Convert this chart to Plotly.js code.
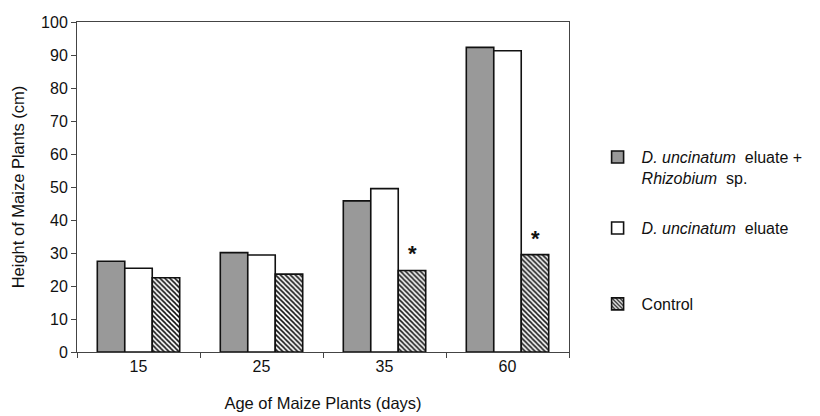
<!DOCTYPE html>
<html><head><meta charset="utf-8">
<script src="https://cdn.plot.ly/plotly-3.0.1.min.js"></script>
<style>body{margin:0;background:#fff}</style>
</head><body><div id="chart" style="width:820px;height:416px"></div>
<script>
const ages = ["15", "25", "35", "60"];
const rhizobium = [27.5, 30.1, 45.8, 92.3];
const eluate = [25.4, 29.4, 49.5, 91.3];
const control = [22.5, 23.6, 24.7, 29.5];
const starAges = ["35", "60"];
const starValues = [24.7, 29.5];
const seriesNames = ["<i>D. uncinatum</i>&nbsp; eluate +<br><i>Rhizobium</i>&nbsp; sp.", "<i>D. uncinatum</i>&nbsp; eluate", "Control"];

const lineStyle = {color: "#111", width: 1.6};
const traces = [
  {type: "bar", x: ages, y: rhizobium, name: seriesNames[0], legend: "legend",
   marker: {color: "#999999", line: lineStyle}},
  {type: "bar", x: ages, y: eluate, name: seriesNames[1], legend: "legend2",
   marker: {color: "#ffffff", line: lineStyle}},
  {type: "bar", x: ages, y: control, name: seriesNames[2], legend: "legend3",
   marker: {color: "#ffffff", line: lineStyle,
     pattern: {shape: "\\", fgcolor: "#111", bgcolor: "#ffffff", size: 3.5, solidity: 0.45, fillmode: "replace"}}}
];

const annotations = starAges.map((a, i) => ({
  x: ages.indexOf(a), y: starValues[i], xref: "x", yref: "y", text: "<b>*</b>", showarrow: false,
  xshift: 28, yanchor: "bottom", yshift: 2,
  font: {family: "Liberation Sans, Arial, sans-serif", size: 22, color: "#111"}
}));

const legendBase = {xanchor: "left", yanchor: "top", valign: "top", itemwidth: 38,
  font: {size: 16, color: "#111"}, bgcolor: "rgba(0,0,0,0)"};

const layout = {
  width: 820, height: 416,
  margin: {l: 77, r: 248, t: 22, b: 64, pad: 0},
  paper_bgcolor: "#fff", plot_bgcolor: "#fff",
  font: {family: "Liberation Sans, Arial, sans-serif", size: 16, color: "#111"},
  barmode: "group", bargap: 0.33, bargroupgap: 0,
  showlegend: true,
  legend: Object.assign({x: 1.05, y: 0.642}, legendBase),
  legend2: Object.assign({x: 1.05, y: 0.427}, legendBase),
  legend3: Object.assign({x: 1.05, y: 0.197}, legendBase),
  xaxis: {type: "category", range: [-0.5, 3.5], autorange: false, tickson: "boundaries", ticks: "outside", ticklen: 5,
    tickcolor: "#444", showline: true, linecolor: "#444", linewidth: 1, mirror: true,
    showgrid: false, zeroline: false, tickangle: 0,
    title: {text: "Age of Maize Plants (days)", font: {size: 16.5}, standoff: 23},
    tickfont: {size: 16}},
  yaxis: {range: [0, 100], dtick: 10, ticks: "outside", ticklen: 5, tickcolor: "#444",
    showline: true, linecolor: "#444", linewidth: 1, mirror: true,
    showgrid: false, zeroline: false,
    title: {text: "Height of Maize Plants (cm)", font: {size: 16.5}, standoff: 12},
    tickfont: {size: 16}},
  annotations: annotations
};
Plotly.newPlot("chart", traces, layout, {displayModeBar: false, staticPlot: true});
</script></body></html>
